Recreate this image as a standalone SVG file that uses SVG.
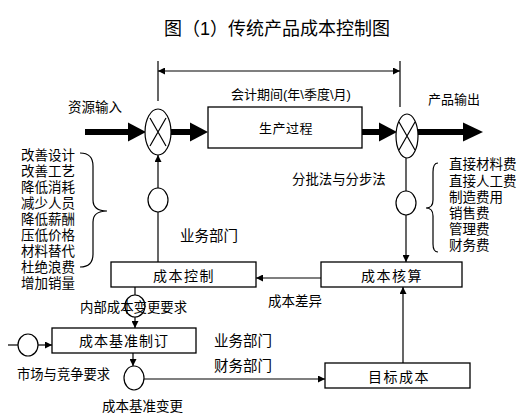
<svg xmlns="http://www.w3.org/2000/svg" width="526" height="415" viewBox="0 0 526 415">
<style>
text{font-family:"Liberation Sans","Noto Sans CJK SC",sans-serif;fill:#000;}
.lbl{font-size:13px;}
.box{fill:#fff;stroke:#000;stroke-width:1.3;}
.bt{font-size:14px;text-anchor:middle;letter-spacing:1.5px;}
.ln{fill:none;stroke:#000;stroke-width:1.2;}
.thick{fill:none;stroke:#000;stroke-width:6;}
.circ{fill:#fff;stroke:#000;stroke-width:1.2;}
</style>
<defs>
<marker id="ah" viewBox="0 0 10 10" refX="10" refY="5" markerWidth="7" markerHeight="7" markerUnits="userSpaceOnUse" orient="auto"><path d="M0,0L10,5L0,10z" fill="#000"/></marker>
</defs>
<rect width="526" height="415" fill="#fff"/>
<text x="277" y="35" font-size="18" text-anchor="middle">图（1）传统产品成本控制图</text>

<g id="connectors">
<line class="ln" x1="158" y1="61" x2="158" y2="101"/>
<line class="ln" x1="400" y1="61" x2="400" y2="107"/>
<line class="ln" x1="279" y1="71" x2="158" y2="71" marker-end="url(#ah)"/>
<line class="ln" x1="279" y1="71" x2="400" y2="71" marker-end="url(#ah)"/>
<line class="thick" x1="85" y1="132" x2="130" y2="132"/>
<path d="M128,122.5L146,132L128,141.5z"/>
<line class="thick" x1="171" y1="132" x2="192" y2="132"/>
<path d="M190,122.5L208,132L190,141.5z"/>
<line class="thick" x1="362" y1="132" x2="381" y2="132"/>
<path d="M379,122.5L397,132L379,141.5z"/>
<line class="thick" x1="418" y1="132" x2="465" y2="132"/>
<path d="M463,122.5L483,132L463,141.5z"/>
<line class="ln" x1="158" y1="262" x2="158" y2="212"/>
<line class="ln" x1="158" y1="188" x2="158" y2="155" marker-end="url(#ah)"/>
<line class="ln" x1="406" y1="158" x2="406" y2="191"/>
<line class="ln" x1="406" y1="215" x2="406" y2="262" marker-end="url(#ah)"/>
<line class="ln" x1="321" y1="278" x2="256" y2="278" marker-end="url(#ah)"/>
<line class="ln" x1="403" y1="363" x2="403" y2="287" marker-end="url(#ah)"/>
<line class="ln" x1="135" y1="287" x2="135" y2="295"/>
<line class="ln" x1="135" y1="317" x2="135" y2="328" marker-end="url(#ah)"/>
<line class="ln" x1="8" y1="345" x2="18" y2="345"/>
<line class="ln" x1="38" y1="345" x2="52" y2="345" marker-end="url(#ah)"/>
<line class="ln" x1="133" y1="353" x2="133" y2="366" stroke-width="1.6" marker-end="url(#ah)"/>
<line class="ln" x1="144" y1="379" x2="325" y2="379" marker-end="url(#ah)"/>
<path class="ln" d="M80,153Q93,153 93,166L93,200Q93,211 107,211Q93,211 93,222L93,254Q93,267 80,267"/>
<path class="ln" d="M438,163Q433,163 433,172L433,200Q433,208 426,208Q433,208 433,216L433,244Q433,252 438,252"/>
</g>

<g id="mult-in">
<ellipse class="circ" cx="158" cy="132" rx="13" ry="23"/>
<path class="ln" d="M150,118L166,146M166,118L150,146" stroke-width="1.5"/>
</g>
<g id="mult-out">
<ellipse class="circ" cx="407" cy="136" rx="11" ry="22"/>
<path class="ln" d="M399,122L415,150M415,122L399,150" stroke-width="1.5"/>
</g>
<g id="production">
<rect class="box" x="208" y="107" width="154" height="41"/>
<text class="bt" x="286" y="133" style="font-size:13px;letter-spacing:0.5px">生产过程</text>
</g>
<g id="circle-left"><ellipse class="circ" cx="158" cy="200" rx="10" ry="12"/></g>
<g id="circle-right"><ellipse class="circ" cx="406" cy="203" rx="10" ry="12"/></g>
<g id="cost-control">
<rect class="box" x="111" y="262" width="145" height="25"/>
<text class="bt" x="184" y="281">成本控制</text>
</g>
<g id="cost-accounting">
<rect class="box" x="321" y="262" width="141" height="25"/>
<text class="bt" x="392" y="281">成本核算</text>
</g>
<g id="circle-internal"><ellipse class="circ" cx="135" cy="306" rx="10" ry="11"/></g>
<g id="cost-baseline">
<rect class="box" x="52" y="328" width="144" height="25"/>
<text class="bt" x="124" y="346" style="letter-spacing:1px">成本基准制订</text>
</g>
<g id="circle-market"><ellipse class="circ" cx="28" cy="345" rx="10" ry="11"/></g>
<g id="circle-change"><ellipse class="circ" cx="134" cy="378" rx="10" ry="12"/></g>
<g id="target-cost">
<rect class="box" x="325" y="363" width="145" height="25"/>
<text class="bt" x="399" y="382">目标成本</text>
</g>

<g id="labels">
<text class="lbl" x="231" y="99">会计期间(年\季度\月)</text>
<text class="lbl" x="68" y="112" style="font-size:13.5px">资源输入</text>
<text class="lbl" x="428" y="104">产品输出</text>
<text class="lbl" x="292" y="184" style="font-size:13.4px">分批法与分步法</text>
<text class="lbl" x="180" y="241" style="font-size:14.5px">业务部门</text>
<text class="lbl" x="268" y="306" style="font-size:13.5px">成本差异</text>
<text class="lbl" x="80" y="312" style="font-size:13.4px">内部成本变更要求</text>
<text class="lbl" x="214" y="346" style="font-size:14.5px">业务部门</text>
<text class="lbl" x="214" y="371" style="font-size:14.5px">财务部门</text>
<text class="lbl" x="17" y="379" style="font-size:13.3px">市场与竞争要求</text>
<text class="lbl" x="102" y="411" style="font-size:13.5px">成本基准变更</text>
</g>
<g id="left-list" style="font-size:13.5px">
<text x="21" y="160">改善设计</text>
<text x="21" y="176">改善工艺</text>
<text x="21" y="192">降低消耗</text>
<text x="21" y="208">减少人员</text>
<text x="21" y="224">降低薪酬</text>
<text x="21" y="240">压低价格</text>
<text x="21" y="256">材料替代</text>
<text x="21" y="272">杜绝浪费</text>
<text x="21" y="288">增加销量</text>
</g>
<g id="right-list" style="font-size:13.5px">
<text x="449" y="169">直接材料费</text>
<text x="449" y="185.5">直接人工费</text>
<text x="449" y="201.5">制造费用</text>
<text x="449" y="217.5">销售费</text>
<text x="449" y="234">管理费</text>
<text x="449" y="250">财务费</text>
</g>
</svg>
